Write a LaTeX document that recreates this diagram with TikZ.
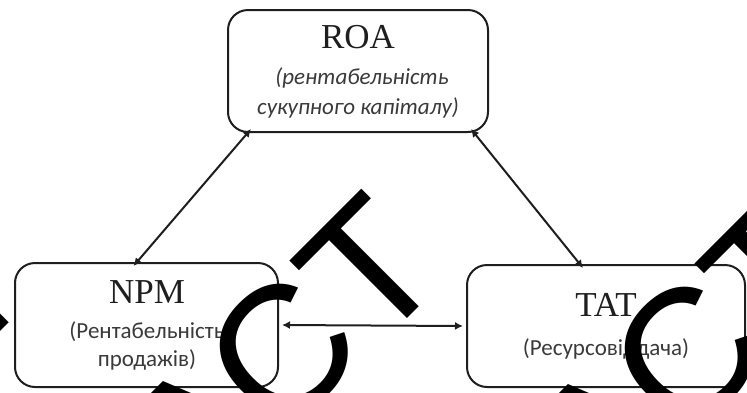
\documentclass[tikz,border=0pt]{standalone}
\usepackage{fontspec}
\setmainfont{Liberation Serif}
\newfontfamily\subfont{Carlito}
\newfontfamily\wmfont{Liberation Sans}
\usetikzlibrary{arrows.meta}
\definecolor{ink}{HTML}{1E1E1E}
\definecolor{subink}{HTML}{3A3A3A}
\tikzset{
  box/.style={draw=ink, line width=2pt, rounded corners=20pt, inner sep=0pt, fill=white},
  ttl/.style={anchor=base, inner sep=0pt, text=ink, font=\fontsize{35}{35}\selectfont},
  sub/.style={anchor=base, inner sep=0pt, text=subink, font=\subfont\fontsize{23}{23}\selectfont},
  link/.style={draw=ink, line width=2pt, {Latex[length=8pt,width=8pt]}-{Latex[length=8pt,width=8pt]}},
  wm/.style={inner sep=0pt, anchor=center, rotate=45, text=black, font=\wmfont\fontsize{180}{180}\selectfont}
}
\begin{document}
\begin{tikzpicture}[x=1pt,y=-1pt]
\useasboundingbox (0,0) rectangle (747,392);
% boxes
\node[box, minimum width=260pt, minimum height=122pt] (roa) at (358,71) {};
\node[box, minimum width=263pt, minimum height=124pt] (npm) at (146.5,325) {};
\node[box, minimum width=278pt, minimum height=122pt] (tat) at (606,326) {};
% texts
\node[ttl] (roat) at (358,48) {ROA};
\node[sub, font=\subfont\itshape\fontsize{23}{23}\selectfont] (roas1) at (362,84) {(рентабельність};
\node[sub, font=\subfont\itshape\fontsize{23}{23}\selectfont] (roas2) at (358,114) {сукупного капіталу)};
\node[ttl] (npmt) at (147,303) {NPM};
\node[sub] (npms1) at (147,338) {(Рентабельність};
\node[sub] (npms2) at (147,366) {продажів)};
\node[ttl] (tatt) at (606,316) {TAT};
\node[sub] (tats) at (606,355) {(Ресурсовіддача)};
% connectors
\draw[link] ([xshift=24pt,yshift=4pt]roa.south west) -- ([xshift=-13pt,yshift=-4pt]npm.north);
\draw[link] ([xshift=-18pt,yshift=4pt]roa.south east) -- ([xshift=-23pt,yshift=-4pt]tat.north);
\draw[link] ([xshift=3pt]npm.east) -- ([xshift=-3pt]tat.west);
% watermark
\node[wm] (wt0) at (-40,285) {T};
\node[wm] (wa1) at (200,432) {A};
\node[wm] (wc1) at (282,352) {C};
\node[wm] (wt1) at (370,269) {T};
\node[wm] (wa2) at (605,435) {A};
\node[wm] (wc2) at (687,355) {C};
\node[wm] (wt2) at (775,272) {T};
\end{tikzpicture}
\end{document}
